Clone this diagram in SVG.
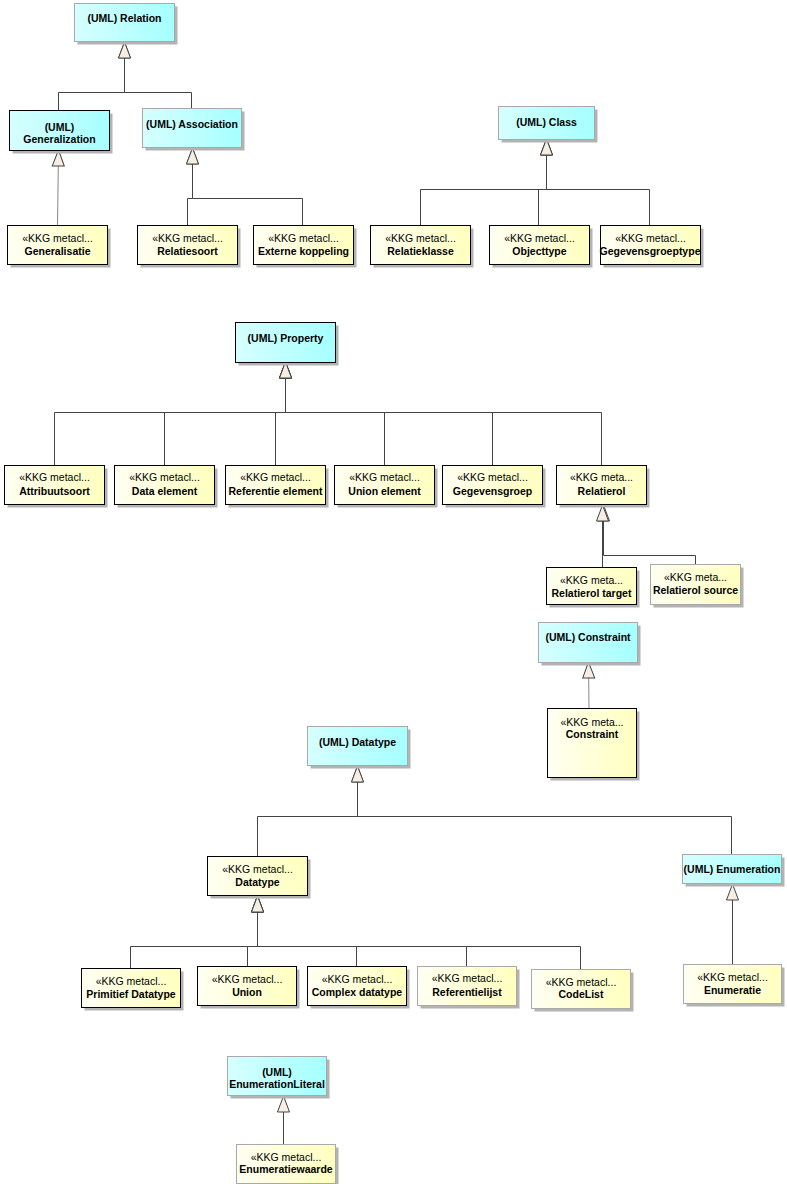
<svg xmlns="http://www.w3.org/2000/svg" width="787" height="1184" viewBox="0 0 787 1184">
<defs>
<linearGradient id="gy" x1="0" y1="0" x2="1" y2="0"><stop offset="0" stop-color="#fffff2"/><stop offset="1" stop-color="#ffffbf"/></linearGradient>
<linearGradient id="gc" x1="0" y1="0" x2="1" y2="0"><stop offset="0" stop-color="#d6ffff"/><stop offset="1" stop-color="#a6ffff"/></linearGradient>
<marker id="tri" markerUnits="userSpaceOnUse" markerWidth="18" markerHeight="14" viewBox="-1 -1 18 14" refX="16" refY="6" orient="auto" overflow="visible">
<path d="M0,0 L16,6 L0,12 z" fill="#f6eee2" stroke="#444" stroke-width="1"/>
</marker>
<style>
.sh{fill:#b3b3b3}
.k{fill:url(#gy);stroke:#000;stroke-width:1}
.u{fill:url(#gc);stroke:#000;stroke-width:1}
.g{stroke:#a9a9a9}
text{font-family:"Liberation Sans",Arial,sans-serif;font-size:10.5px;fill:#000;text-anchor:middle}
.b{font-weight:bold}
.c path{fill:none;stroke:#444;stroke-width:1;marker-end:url(#tri)}
.c path.l{stroke:#888}
</style>
</defs>
<rect width="787" height="1184" fill="#fff"/>

<g class="c" id="connectors">
<path d="M58.5,110 V92.5 H124.5 V42"/>
<path d="M191.5,108 V92.5 H124.5 V42"/>
<path class="l" d="M57.5,225 L58.5,150"/>
<path d="M187.5,225 V198.5 H192.5 V148"/>
<path d="M302.5,225 V198.5 H192.5 V148"/>
<path d="M420.5,225 V189.5 H546.5 V139"/>
<path d="M538.5,225 V189.5 H546.5 V139"/>
<path d="M649.5,225 V189.5 H546.5 V139"/>
<path d="M54.5,465 V412.5 H285.5 V362"/>
<path d="M164.5,465 V412.5 H285.5 V362"/>
<path d="M275.5,465 V412.5 H285.5 V362"/>
<path d="M384.5,465 V412.5 H285.5 V362"/>
<path d="M492.5,465 V412.5 H285.5 V362"/>
<path d="M601.5,465 V412.5 H285.5 V362"/>
<path d="M695.5,564 V555.5 H603.5 V505"/>
<path d="M602.5,567 V505"/>
<path class="l" d="M589,708 L588.5,662"/>
<path d="M257.5,856 V816.5 H357.5 V766"/>
<path d="M731.5,854 V816.5 H357.5 V766"/>
<path d="M130.5,968 V946.5 H257.5 V896"/>
<path d="M247.5,966 V946.5 H257.5 V896"/>
<path d="M356.5,966 V946.5 H257.5 V896"/>
<path d="M466.5,966 V946.5 H257.5 V896"/>
<path d="M580.5,969 V946.5 H257.5 V896"/>
<path d="M732.5,964 V884"/>
<path d="M283.5,1144 V1096"/>
</g>

<g id="n-relation"><rect class="sh" x="77.5" y="6.5" width="100" height="38"/><rect class="u g" x="74.5" y="3.5" width="100" height="38"/><text class="b" x="124.5" y="22">(UML) Relation</text></g>
<g id="n-generalization"><rect class="sh" x="12.5" y="113.5" width="100" height="40"/><rect class="u" x="9.5" y="110.5" width="100" height="40"/><text class="b" x="59.5" y="131">(UML)</text><text class="b" x="59.5" y="143">Generalization</text></g>
<g id="n-association"><rect class="sh" x="145.5" y="111.5" width="99" height="39"/><rect class="u g" x="142.5" y="108.5" width="99" height="39"/><text class="b" x="192" y="128">(UML) Association</text></g>
<g id="n-generalisatie"><rect class="sh" x="10.5" y="228.5" width="100" height="39"/><rect class="k" x="7.5" y="225.5" width="100" height="39"/><text x="57.5" y="242">«KKG metacl...</text><text class="b" x="57.5" y="255">Generalisatie</text></g>
<g id="n-relatiesoort"><rect class="sh" x="140.5" y="228.5" width="100" height="39"/><rect class="k" x="137.5" y="225.5" width="100" height="39"/><text x="187.5" y="242">«KKG metacl...</text><text class="b" x="187.5" y="255">Relatiesoort</text></g>
<g id="n-externe"><rect class="sh" x="256.5" y="228.5" width="100" height="39"/><rect class="k" x="253.5" y="225.5" width="100" height="39"/><text x="303.5" y="242">«KKG metacl...</text><text class="b" x="303.5" y="255">Externe koppeling</text></g>
<g id="n-class"><rect class="sh" x="501.5" y="109.5" width="96" height="33"/><rect class="u g" x="498.5" y="106.5" width="96" height="33"/><text class="b" x="546.5" y="126">(UML) Class</text></g>
<g id="n-relatieklasse"><rect class="sh" x="373.5" y="228.5" width="100" height="39"/><rect class="k" x="370.5" y="225.5" width="100" height="39"/><text x="420.5" y="242">«KKG metacl...</text><text class="b" x="420.5" y="255">Relatieklasse</text></g>
<g id="n-objecttype"><rect class="sh" x="492.5" y="228.5" width="100" height="39"/><rect class="k" x="489.5" y="225.5" width="100" height="39"/><text x="539.5" y="242">«KKG metacl...</text><text class="b" x="539.5" y="255">Objecttype</text></g>
<g id="n-gegevensgroeptype"><rect class="sh" x="603.5" y="228.5" width="100" height="39"/><rect class="k" x="600.5" y="225.5" width="100" height="39"/><text x="650.5" y="242">«KKG metacl...</text><text class="b" x="650" y="255">Gegevensgroeptype</text></g>

<g id="n-property"><rect class="sh" x="238.5" y="325.5" width="100" height="40"/><rect class="u" x="235.5" y="322.5" width="100" height="40"/><text class="b" x="285.5" y="342">(UML) Property</text></g>
<g id="n-attribuutsoort"><rect class="sh" x="7.5" y="468.5" width="100" height="39"/><rect class="k" x="4.5" y="465.5" width="100" height="39"/><text x="54.5" y="481">«KKG metacl...</text><text class="b" x="54.5" y="495">Attribuutsoort</text></g>
<g id="n-dataelement"><rect class="sh" x="117.5" y="468.5" width="100" height="39"/><rect class="k" x="114.5" y="465.5" width="100" height="39"/><text x="164.5" y="481">«KKG metacl...</text><text class="b" x="164.5" y="495">Data element</text></g>
<g id="n-referentieelement"><rect class="sh" x="228.5" y="468.5" width="100" height="39"/><rect class="k" x="225.5" y="465.5" width="100" height="39"/><text x="275.5" y="481">«KKG metacl...</text><text class="b" x="275.5" y="495">Referentie element</text></g>
<g id="n-unionelement"><rect class="sh" x="337.5" y="468.5" width="100" height="39"/><rect class="k" x="334.5" y="465.5" width="100" height="39"/><text x="384.5" y="481">«KKG metacl...</text><text class="b" x="384.5" y="495">Union element</text></g>
<g id="n-gegevensgroep"><rect class="sh" x="445.5" y="468.5" width="100" height="39"/><rect class="k" x="442.5" y="465.5" width="100" height="39"/><text x="492.5" y="481">«KKG metacl...</text><text class="b" x="492.5" y="495">Gegevensgroep</text></g>
<g id="n-relatierol"><rect class="sh" x="559.5" y="468.5" width="90" height="39"/><rect class="k" x="556.5" y="465.5" width="90" height="39"/><text x="601.5" y="481">«KKG meta...</text><text class="b" x="601.5" y="495">Relatierol</text></g>
<g id="n-relatieroltarget"><rect class="sh" x="549.5" y="570.5" width="90" height="37"/><rect class="k" x="546.5" y="567.5" width="90" height="37"/><text x="591.5" y="584">«KKG meta...</text><text class="b" x="591.5" y="597">Relatierol target</text></g>
<g id="n-relatierolsource"><rect class="sh" x="653.5" y="567.5" width="90" height="40"/><rect class="k g" x="650.5" y="564.5" width="90" height="40"/><text x="695.5" y="581">«KKG meta...</text><text class="b" x="695.5" y="594">Relatierol source</text></g>

<g id="n-constraint-uml"><rect class="sh" x="541.5" y="625.5" width="99" height="40"/><rect class="u g" x="538.5" y="622.5" width="99" height="40"/><text class="b" x="588" y="641">(UML) Constraint</text></g>
<g id="n-constraint-kkg"><rect class="sh" x="550.5" y="711.5" width="89" height="69"/><rect class="k" x="547.5" y="708.5" width="89" height="69"/><text x="592" y="726">«KKG meta...</text><text class="b" x="592" y="738">Constraint</text></g>

<g id="n-datatype-uml"><rect class="sh" x="310.5" y="729.5" width="100" height="39"/><rect class="u g" x="307.5" y="726.5" width="100" height="39"/><text class="b" x="357.5" y="746">(UML) Datatype</text></g>
<g id="n-datatype-kkg"><rect class="sh" x="210.5" y="859.5" width="100" height="39"/><rect class="k" x="207.5" y="856.5" width="100" height="39"/><text x="257.5" y="873">«KKG metacl...</text><text class="b" x="257.5" y="886">Datatype</text></g>
<g id="n-primitief"><rect class="sh" x="84.5" y="971.5" width="99" height="39"/><rect class="k" x="81.5" y="968.5" width="99" height="39"/><text x="131" y="985">«KKG metacl...</text><text class="b" x="131" y="998">Primitief Datatype</text></g>
<g id="n-union"><rect class="sh" x="200.5" y="969.5" width="99" height="39"/><rect class="k" x="197.5" y="966.5" width="99" height="39"/><text x="247" y="983">«KKG metacl...</text><text class="b" x="247" y="996">Union</text></g>
<g id="n-complex"><rect class="sh" x="310.5" y="969.5" width="99" height="39"/><rect class="k" x="307.5" y="966.5" width="99" height="39"/><text x="357" y="983">«KKG metacl...</text><text class="b" x="357" y="996">Complex datatype</text></g>
<g id="n-referentielijst"><rect class="sh" x="420.5" y="969.5" width="99" height="39"/><rect class="k g" x="417.5" y="966.5" width="99" height="39"/><text x="467" y="982">«KKG metacl...</text><text class="b" x="467" y="996">Referentielijst</text></g>
<g id="n-codelist"><rect class="sh" x="534.5" y="972.5" width="99" height="39"/><rect class="k g" x="531.5" y="969.5" width="99" height="39"/><text x="581" y="986">«KKG metacl...</text><text class="b" x="581" y="998">CodeList</text></g>
<g id="n-enumeration"><rect class="sh" x="685.5" y="857.5" width="99" height="29"/><rect class="u g" x="682.5" y="854.5" width="99" height="29"/><text class="b" x="732" y="873">(UML) Enumeration</text></g>
<g id="n-enumeratie"><rect class="sh" x="686.5" y="967.5" width="98" height="39"/><rect class="k g" x="683.5" y="964.5" width="98" height="39"/><text x="732.5" y="981">«KKG metacl...</text><text class="b" x="732.5" y="994">Enumeratie</text></g>

<g id="n-enumerationliteral"><rect class="sh" x="230.5" y="1059.5" width="99" height="39"/><rect class="u g" x="227.5" y="1056.5" width="99" height="39"/><text class="b" x="277" y="1076">(UML)</text><text class="b" x="277" y="1088">EnumerationLiteral</text></g>
<g id="n-enumeratiewaarde"><rect class="sh" x="239.5" y="1147.5" width="99" height="39"/><rect class="k g" x="236.5" y="1144.5" width="99" height="39"/><text x="286" y="1161">«KKG metacl...</text><text class="b" x="286" y="1173">Enumeratiewaarde</text></g>
</svg>
